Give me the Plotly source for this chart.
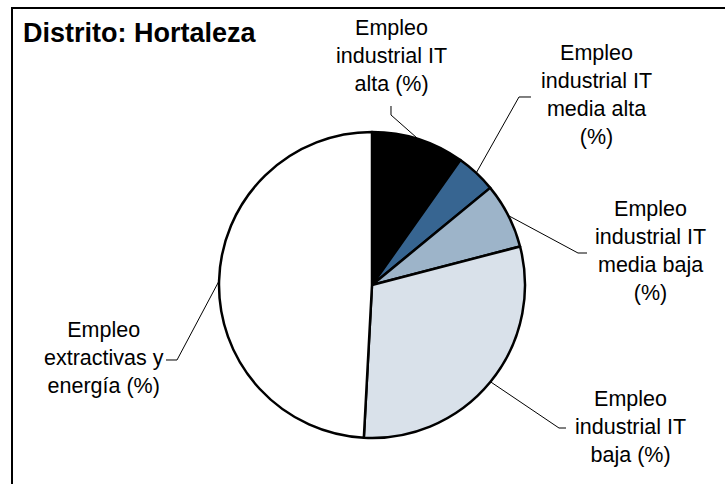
import math
import plotly.graph_objects as go

# Employment shares by technology intensity, Hortaleza district
categories = [
    "Empleo industrial IT alta (%)",
    "Empleo industrial IT media alta (%)",
    "Empleo industrial IT media baja (%)",
    "Empleo industrial IT baja (%)",
    "Empleo extractivas y energía (%)",
]
label_text = [
    "Empleo<br>industrial IT<br>alta (%)",
    "Empleo<br>industrial IT<br>media alta<br>(%)",
    "Empleo<br>industrial IT<br>media baja<br>(%)",
    "Empleo<br>industrial IT<br>baja (%)",
    "Empleo<br>extractivas y<br>energía (%)",
]
values = [9.8, 4.25, 6.9, 29.9, 49.15]
colors = ["#000000", "#376591", "#9db4c9", "#d9e1ea", "#ffffff"]

W, H = 725, 484
CX, CY, R = 372, 285, 153  # pie centre and radius in pixels

# label centre (px) and leader-line elbow/end points (px)
label_pos = [(391, 56), (596, 95), (650, 251), (630, 427), (104, 358)]
leader_bend = [
    [(391, 115), (391, 106)],
    [(519, 97), (531, 97)],
    [(578, 253), (587, 253)],
    [(559, 428), (566, 428)],
    [(177, 360), (166, 360)],
]


def px(x):
    return x / W


def py(y):
    return 1 - y / H


fig = go.Figure(
    go.Pie(
        labels=categories,
        values=values,
        sort=False,
        direction="clockwise",
        rotation=0,
        marker=dict(colors=colors, line=dict(color="#000000", width=2.5)),
        textinfo="none",
        hoverinfo="label+percent",
        showlegend=False,
        domain=dict(x=[px(CX - R), px(CX + R)], y=[py(CY + R), py(CY - R)]),
    )
)

shapes = []
annotations = []
total = sum(values)
cum = 0.0
for v, txt, (lx, ly), bends in zip(values, label_text, label_pos, leader_bend):
    mid = (cum + v / 2) / total * 2 * math.pi
    cum += v
    sx = CX + R * math.sin(mid)
    sy = CY - R * math.cos(mid)
    pts = [(sx, sy)] + bends
    path = "M " + " L ".join(f"{px(a):.5f},{py(b):.5f}" for a, b in pts)
    shapes.append(dict(type="path", xref="paper", yref="paper", path=path,
                       line=dict(color="#000000", width=1)))
    annotations.append(dict(
        x=px(lx), y=py(ly), xref="paper", yref="paper",
        text=txt, showarrow=False, xanchor="center", yanchor="middle",
        align="center",
        font=dict(family="Liberation Sans, Arial, sans-serif", size=21.5, color="#000000"),
    ))

# chart title
annotations.append(dict(
    x=px(21), y=py(33), xref="paper", yref="paper",
    text="<b>Distrito: Hortaleza</b>", showarrow=False,
    xanchor="left", yanchor="middle",
    font=dict(family="Liberation Sans, Arial, sans-serif", size=27, color="#000000"),
))

# chart frame
shapes.append(dict(type="rect", xref="paper", yref="paper",
                   x0=px(12), y0=py(H + 10), x1=px(W + 10), y1=py(8),
                   line=dict(color="#000000", width=2)))

fig.update_layout(
    width=W, height=H,
    margin=dict(l=0, r=0, t=0, b=0),
    paper_bgcolor="#ffffff",
    plot_bgcolor="#ffffff",
    shapes=shapes,
    annotations=annotations,
)

fig.write_html("out.html")
